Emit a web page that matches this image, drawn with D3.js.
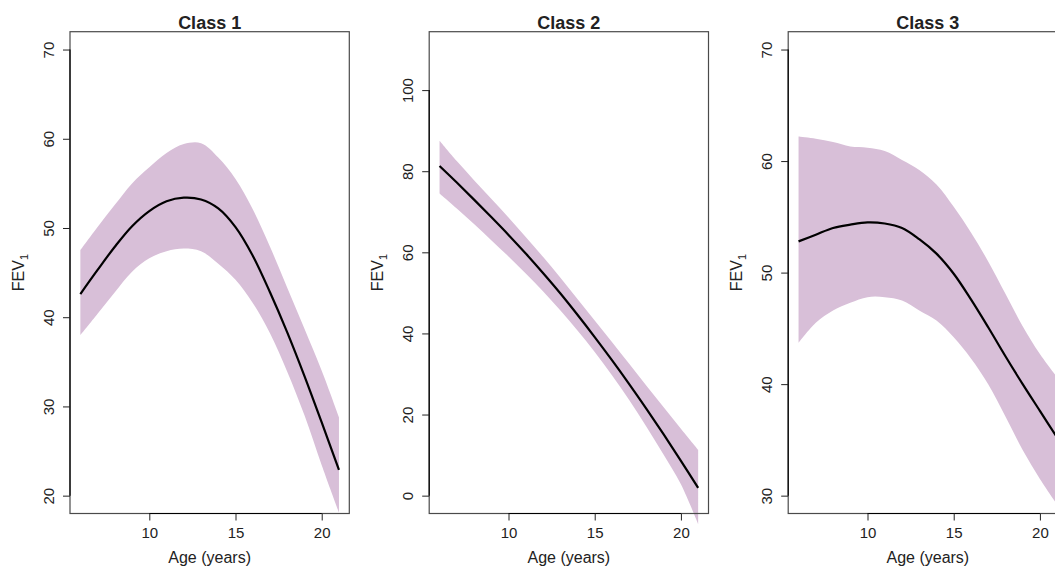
<!DOCTYPE html>
<html><head><meta charset="utf-8">
<script src="https://cdn.jsdelivr.net/npm/d3@7"></script>
<style>
body{margin:0;background:#fff;overflow:hidden}
svg{display:block;font-family:"Liberation Sans",Arial,Helvetica,sans-serif}
</style>
</head><body>
<svg id="chart" width="1055" height="569"></svg>
<script>
// ---- data ----
const ages = [6,7,8,9,10,11,12,13,14,15,16,17,18,19,20,21];
const xTicks = [10,15,20];
const panelTitles = ["Class 1","Class 2","Class 3"];

const class1Mean  = [42.6,45.3,47.9,50.2,51.9,53.0,53.4,53.2,52.2,50.1,46.9,42.8,38.3,33.4,28.2,22.9];
const class1Upper = [47.5,50.1,52.6,55.0,56.8,58.4,59.4,59.5,57.9,55.5,52.1,47.9,43.3,38.7,34.0,28.8];
const class1Lower = [38.0,40.4,42.8,45.1,46.6,47.4,47.7,47.4,46.0,44.2,41.6,38.2,33.9,29.0,23.4,18.1];

const class2Mean  = [81.3,77.2,73.0,68.7,64.3,59.7,54.9,49.9,44.6,39.1,33.4,27.5,21.4,15.1,8.6,1.9];
const class2Upper = [87.5,82.5,77.8,73.2,68.6,63.8,58.9,53.8,48.5,43.2,37.9,32.5,27.1,21.8,16.5,11.3];
const class2Lower = [74.5,70.8,67.0,63.0,59.0,54.8,50.4,45.7,40.7,35.4,29.7,23.6,17.0,10.1,2.8,-7.0];

const class3Mean  = [52.8,53.4,54.0,54.3,54.5,54.4,54.0,53.0,51.7,49.9,47.6,45.1,42.5,40.0,37.6,35.2];
const class3Upper = [62.2,62.0,61.7,61.3,61.2,60.9,60.1,59.2,57.9,55.9,53.6,51.0,48.1,45.2,42.7,40.6];
const class3Lower = [43.7,45.5,46.6,47.3,47.8,47.8,47.5,46.6,45.7,44.2,42.3,40.0,37.1,34.1,31.5,29.2];

const yLimits = [[20,70],[0,110],[30,70]];
const yTicks  = [[20,30,40,50,60,70],[0,20,40,60,80,100],[30,40,50,60,70]];
const xLimit  = [6,21];

const means  = [class1Mean, class2Mean, class3Mean];
const uppers = [class1Upper, class2Upper, class3Upper];
const lowers = [class1Lower, class2Lower, class3Lower];

// ---- layout ----
const svg = d3.select("#chart");
const panelLeft = [70, 429.2, 788.2];
const pw = 279.3, plotTop = 31.7, plotBottom = 513.5;
const textCol = "#222";
function ext(l){ const d = (l[1]-l[0])*0.04; return [l[0]-d, l[1]+d]; }
const curve = d3.curveCatmullRom.alpha(0.5);

panelTitles.forEach((title, i) => {
  const g = svg.append("g");
  const x = d3.scaleLinear().domain(ext(xLimit)).range([panelLeft[i], panelLeft[i]+pw]);
  const y = d3.scaleLinear().domain(ext(yLimits[i])).range([plotBottom, plotTop]);
  const rows = ages.map((a,j) => ({a, m: means[i][j], u: uppers[i][j], l: lowers[i][j]}));

  g.append("path").datum(rows)
    .attr("d", d3.area().x(d=>x(d.a)).y0(d=>y(d.l)).y1(d=>y(d.u)).curve(curve))
    .attr("fill", "#D8BFD8");

  g.append("path").datum(rows)
    .attr("d", d3.line().x(d=>x(d.a)).y(d=>y(d.m)).curve(curve))
    .attr("fill","none").attr("stroke","#000").attr("stroke-width",2.2);

  // box
  g.append("rect")
    .attr("x", x.range()[0]).attr("y", plotTop)
    .attr("width", pw).attr("height", plotBottom-plotTop)
    .attr("fill","none").attr("stroke","#4a4a4a").attr("stroke-width",1.2);

  // x axis
  const xa = g.append("g").attr("transform",`translate(0,${plotBottom})`)
    .call(d3.axisBottom(x).tickValues(xTicks).tickSize(7).tickSizeOuter(0).tickPadding(7));
  xa.select(".domain").attr("d", `M${x(xTicks[0])},0H${x(xTicks[xTicks.length-1])}`)
    .attr("stroke","#000").attr("stroke-width",1.2);
  xa.selectAll(".tick line").attr("stroke","#222");
  xa.selectAll(".tick text").attr("font-size",15).attr("fill",textCol)
    .attr("font-family",'"Liberation Sans",Arial,sans-serif');

  // y axis
  const yt = yTicks[i];
  const ya = g.append("g").attr("transform",`translate(${x.range()[0]},0)`)
    .call(d3.axisLeft(y).tickValues(yt).tickSize(7).tickSizeOuter(0));
  ya.select(".domain").attr("d", `M0,${y(yt[0])}V${y(yt[yt.length-1])}`)
    .attr("stroke","#000").attr("stroke-width",1.2);
  ya.selectAll(".tick line").attr("stroke","#222");
  ya.selectAll(".tick text")
    .attr("x",0).attr("dy",null).attr("y",-16)
    .attr("transform","rotate(-90)")
    .attr("text-anchor","middle")
    .attr("font-size",15).attr("fill",textCol)
    .attr("font-family",'"Liberation Sans",Arial,sans-serif');

  // title
  g.append("text")
    .attr("x",(x.range()[0]+x.range()[1])/2).attr("y",29)
    .attr("text-anchor","middle").attr("font-size",18).attr("font-weight","bold")
    .attr("fill",textCol).text(title);

  // x label
  g.append("text")
    .attr("x",(x.range()[0]+x.range()[1])/2).attr("y",563)
    .attr("text-anchor","middle").attr("font-size",16)
    .attr("fill",textCol).text("Age (years)");

  // y label FEV1
  const yl = g.append("text")
    .attr("transform",`translate(${x.range()[0]-46},${(plotTop+plotBottom)/2}) rotate(-90)`)
    .attr("text-anchor","middle").attr("font-size",16).attr("fill",textCol);
  yl.append("tspan").text("FEV");
  yl.append("tspan").attr("font-size",11).attr("dy",4).text("1");
});
</script>
</body></html>
